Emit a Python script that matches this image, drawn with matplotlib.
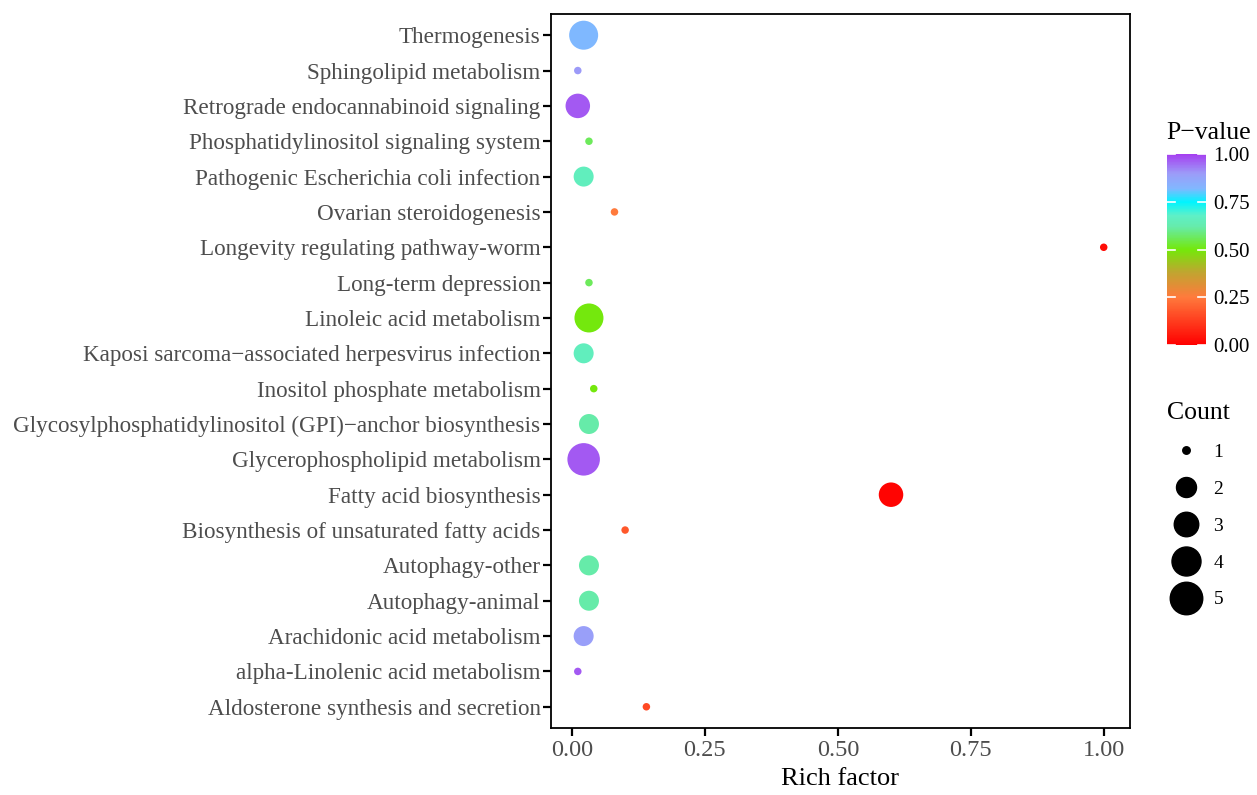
import numpy as np
import matplotlib
matplotlib.use("Agg")
import matplotlib.pyplot as plt
from matplotlib.colors import LinearSegmentedColormap, Normalize
from matplotlib.lines import Line2D

plt.rcParams['font.family'] = ['Liberation Serif', 'DejaVu Serif']

# pathways, listed bottom to top
pathways = ["Aldosterone synthesis and secretion",
            "alpha-Linolenic acid metabolism",
            "Arachidonic acid metabolism",
            "Autophagy-animal",
            "Autophagy-other",
            "Biosynthesis of unsaturated fatty acids",
            "Fatty acid biosynthesis",
            "Glycerophospholipid metabolism",
            "Glycosylphosphatidylinositol (GPI)\u2212anchor biosynthesis",
            "Inositol phosphate metabolism",
            "Kaposi sarcoma\u2212associated herpesvirus infection",
            "Linoleic acid metabolism",
            "Long-term depression",
            "Longevity regulating pathway-worm",
            "Ovarian steroidogenesis",
            "Pathogenic Escherichia coli infection",
            "Phosphatidylinositol signaling system",
            "Retrograde endocannabinoid signaling",
            "Sphingolipid metabolism",
            "Thermogenesis"]
rich_factor = [0.14, 0.011, 0.022, 0.032, 0.032, 0.10, 0.60, 0.022, 0.032, 0.041,
               0.022, 0.032, 0.032, 1.00, 0.080, 0.022, 0.032, 0.011, 0.011, 0.022]
count = [1, 1, 2, 2, 2, 1, 3, 5, 2, 1,
         2, 4, 1, 1, 1, 2, 1, 3, 1, 4]
pvalue = [0.15, 0.97, 0.89, 0.62, 0.62, 0.18, 0.01, 0.97, 0.62, 0.50,
          0.66, 0.50, 0.56, 0.03, 0.25, 0.66, 0.56, 0.97, 0.90, 0.82]

cmap = LinearSegmentedColormap.from_list("pv", [
    (0.0, "#FF0000"), (0.25, "#FF7A3C"), (0.38, "#C0A530"), (0.5, "#74E80A"),
    (0.62, "#66EBAA"), (0.68, "#5EF0C8"), (0.75, "#00F5FF"), (0.82, "#80B8FF"),
    (0.9, "#9C9CF8"), (1.0, "#A540F0")])
norm = Normalize(0, 1)

# marker diameter in px for each count
diam_px = {1: 7.5, 2: 20, 3: 24.5, 4: 29, 5: 32.5}
dpi = 100
def area(c):
    return (diam_px[c] * 72 / dpi) ** 2

fig = plt.figure(figsize=(12.57, 7.95), dpi=dpi)
ax = fig.add_axes([0.4383, 0.0843, 0.4607, 0.8981])
ypos = np.arange(len(pathways))
ax.scatter(rich_factor, ypos, s=[area(c) for c in count], c=pvalue, cmap=cmap,
           norm=norm, edgecolors='none', zorder=3)
ax.set_yticks(ypos)
ax.set_yticklabels(pathways)
ax.set_ylim(-0.6, len(pathways) - 0.4)
ax.set_xlim(-0.0395, 1.0495)
ax.set_xticks([0, 0.25, 0.5, 0.75, 1.0])
ax.set_xticklabels(["0.00", "0.25", "0.50", "0.75", "1.00"])
ax.tick_params(axis='y', labelsize=16.7, colors='black', labelcolor='#4D4D4D',
               length=6, width=1.6, pad=1.5)
ax.tick_params(axis='x', labelsize=17.5, colors='black', labelcolor='#4D4D4D',
               length=6, width=1.6, pad=3)
for sp in ax.spines.values():
    sp.set_linewidth(1.3)
ax.set_xlabel("Rich factor", fontsize=19, labelpad=5)

# colour bar
cax = fig.add_axes([0.9285, 0.566, 0.031, 0.24])
sm = plt.cm.ScalarMappable(norm=norm, cmap=cmap)
cb = fig.colorbar(sm, cax=cax)
cb.outline.set_visible(False)
cb.set_ticks([0, 0.25, 0.5, 0.75, 1.0])
cb.set_ticklabels(["0.00", "0.25", "0.50", "0.75", "1.00"])
cax.tick_params(labelsize=15, length=0, pad=5, labelcolor='black')
for t in [0, 0.25, 0.5, 0.75, 1.0]:
    cax.plot([0, 0.2], [t, t], color='white', lw=1.2)
    cax.plot([0.8, 1], [t, t], color='white', lw=1.2)
cax.set_xlim(0, 1)
fig.text(0.928, 0.833, "P\u2212value", fontsize=18.5, ha='left', va='center')

# size legend
handles = [Line2D([], [], marker='o', ls='none', color='black',
                  markersize=diam_px[c] * 72 / dpi) for c in [1, 2, 3, 4, 5]]
leg = fig.legend(handles, ["1", "2", "3", "4", "5"], title="Count",
                 loc='upper left', bbox_to_anchor=(0.922, 0.504), frameon=False,
                 fontsize=14, title_fontsize=18.5, labelspacing=0.99,
                 handletextpad=0.4, borderaxespad=0)
leg._legend_box.align = "left"

fig.savefig("out.png", dpi=dpi)
